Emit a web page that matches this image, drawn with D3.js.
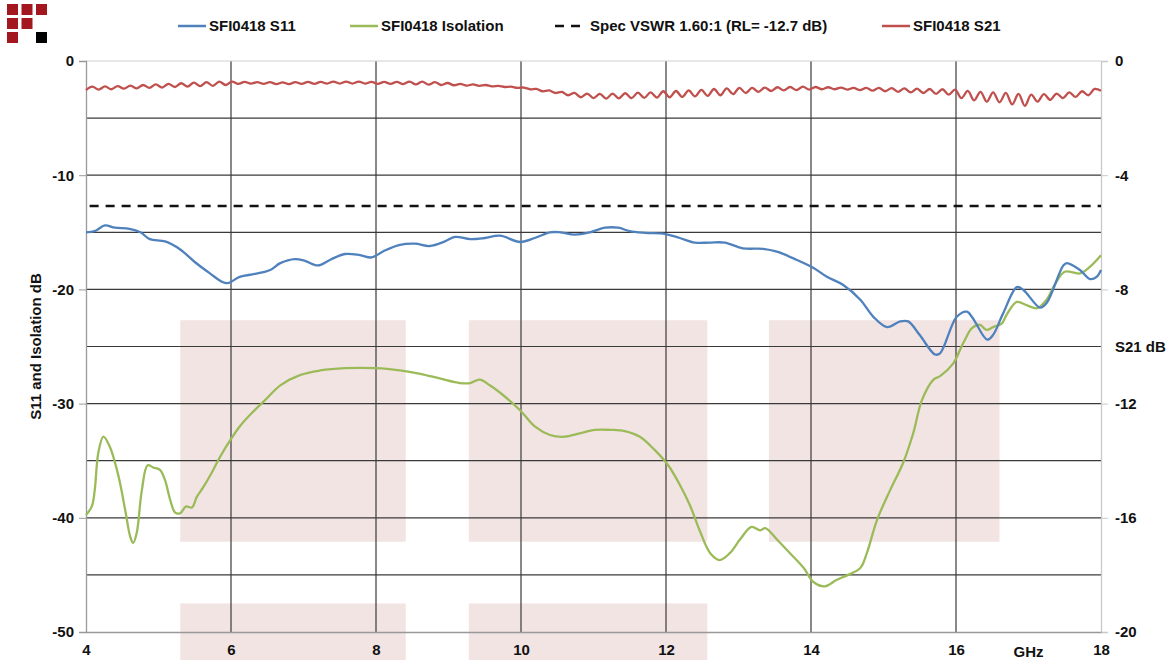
<!DOCTYPE html>
<html>
<head>
<meta charset="utf-8">
<script src="https://cdnjs.cloudflare.com/ajax/libs/d3/7.8.5/d3.min.js"></script>
<style>
  body { margin: 0; background: #fff; }
  svg text { font-family: "Liberation Sans", Arial, sans-serif; font-weight: bold; fill: #111; }
</style>
</head>
<body>
<div id="chart"></div>
<script>
// ---- data ----
var xTicks = [4, 6, 8, 10, 12, 14, 16, 18];
var leftTicks = [0, -10, -20, -30, -40, -50];
var rightTicks = [0, -4, -8, -12, -16, -20];
var gridLevels = [-5, -10, -15, -20, -25, -30, -35, -40, -45];

var specLevel = -12.7;

// shaded spec boxes (GHz, dB on left axis)
var boxX0 = [5.3, 9.28, 13.42, 5.3, 9.28];
var boxX1 = [8.41, 12.57, 16.6, 8.41, 12.57];
var boxTop = [-22.7, -22.7, -22.7, -47.5, -47.5];
var boxBottom = [-42.1, -42.1, -42.1, -52.5, -52.5];

var s11Freq = [4.0, 4.12, 4.26, 4.4, 4.6, 4.75, 4.88, 5.09, 5.3, 5.5, 5.71, 5.88, 5.96, 6.12, 6.33, 6.54, 6.68, 6.88, 7.02, 7.2, 7.37, 7.57, 7.78, 7.94, 8.12, 8.33, 8.54, 8.74, 8.95, 9.09, 9.3, 9.5, 9.71, 9.99, 10.19, 10.4, 10.54, 10.74, 10.95, 11.16, 11.34, 11.5, 11.71, 11.99, 12.19, 12.4, 12.6, 12.81, 13.06, 13.34, 13.53, 13.8, 14.03, 14.22, 14.44, 14.68, 14.86, 15.05, 15.23, 15.34, 15.5, 15.71, 15.78, 16.01, 16.15, 16.23, 16.43, 16.51, 16.65, 16.84, 16.93, 17.16, 17.25, 17.48, 17.53, 17.71, 17.85, 17.94, 18.0];
var s11Val = [-15.0, -14.9, -14.4, -14.6, -14.7, -15.0, -15.6, -15.8, -16.5, -17.6, -18.6, -19.35, -19.45, -18.9, -18.65, -18.3, -17.7, -17.35, -17.5, -17.9, -17.4, -16.9, -17.0, -17.2, -16.6, -16.1, -16.0, -16.2, -15.8, -15.4, -15.6, -15.5, -15.3, -15.85, -15.5, -15.0, -15.0, -15.2, -15.0, -14.6, -14.6, -14.9, -15.05, -15.15, -15.5, -15.9, -15.9, -15.9, -16.4, -16.45, -16.7, -17.4, -18.1, -18.9, -19.6, -20.9, -22.4, -23.3, -22.8, -22.8, -24.0, -25.7, -25.6, -22.4, -21.95, -22.5, -24.4, -24.0, -22.1, -19.8, -20.05, -21.6, -21.2, -17.9, -17.7, -18.3, -19.1, -18.9, -18.3];

var isoFreq = [4.0, 4.08, 4.12, 4.17, 4.24, 4.33, 4.45, 4.54, 4.61, 4.65, 4.7, 4.77, 4.85, 4.93, 5.02, 5.09, 5.16, 5.23, 5.3, 5.38, 5.46, 5.53, 5.62, 5.73, 5.85, 5.99, 6.12, 6.26, 6.47, 6.68, 6.95, 7.23, 7.57, 8.0, 8.33, 8.61, 8.88, 9.16, 9.3, 9.43, 9.57, 9.78, 9.99, 10.19, 10.4, 10.6, 10.81, 11.02, 11.23, 11.43, 11.64, 11.85, 12.03, 12.19, 12.33, 12.47, 12.61, 12.74, 12.88, 13.02, 13.18, 13.3, 13.37, 13.53, 13.71, 13.9, 14.03, 14.19, 14.35, 14.51, 14.68, 14.77, 14.91, 15.09, 15.27, 15.41, 15.53, 15.69, 15.78, 15.96, 16.1, 16.22, 16.33, 16.42, 16.51, 16.63, 16.7, 16.84, 16.98, 17.12, 17.25, 17.37, 17.5, 17.71, 17.85, 18.0];
var isoVal = [-39.75, -39.0, -37.6, -34.3, -32.9, -33.8, -36.4, -39.3, -41.65, -42.2, -41.3, -37.6, -35.4, -35.6, -35.8, -36.7, -38.4, -39.55, -39.6, -39.0, -39.1, -38.15, -37.3, -36.1, -34.65, -33.2, -32.0, -31.0, -29.7, -28.4, -27.5, -27.1, -26.9, -26.9, -27.1, -27.4, -27.8, -28.2, -28.2, -27.9, -28.4, -29.4, -30.6, -32.0, -32.75, -32.9, -32.6, -32.3, -32.3, -32.4, -32.9, -34.1, -35.4, -37.1, -38.9, -41.2, -43.1, -43.7, -43.1, -41.9, -40.8, -41.1, -40.9, -41.9, -43.1, -44.4, -45.6, -46.0, -45.45, -45.0, -44.4, -43.1, -40.2, -37.6, -35.2, -32.6, -29.7, -27.9, -27.6, -26.5, -24.7, -23.4, -23.1, -23.55, -23.3, -23.0, -22.2, -21.1, -21.4, -21.65, -20.9, -19.5, -18.45, -18.6, -18.0, -17.0];

// S21 measured on a uniform 0.0875 GHz grid from 4 GHz
var s21Start = 4, s21Step = 0.0875;
var s21Val = [
  -1.02, -0.90, -1.00, -0.89, -0.99, -0.88, -0.97, -0.86, -0.96, -0.84,
  -0.94, -0.82, -0.93, -0.80, -0.91, -0.78, -0.90, -0.76, -0.88, -0.74,
  -0.87, -0.72, -0.84, -0.72, -0.80, -0.73, -0.79, -0.74, -0.80, -0.74,
  -0.81, -0.75, -0.81, -0.74, -0.80, -0.73, -0.80, -0.73, -0.79, -0.72,
  -0.79, -0.72, -0.79, -0.72, -0.79, -0.73, -0.80, -0.73, -0.80, -0.73,
  -0.81, -0.72, -0.82, -0.72, -0.83, -0.74, -0.84, -0.77, -0.85, -0.80,
  -0.86, -0.82, -0.87, -0.84, -0.89, -0.87, -0.91, -0.90, -0.94, -0.93,
  -0.99, -0.98, -1.06, -1.03, -1.12, -1.08, -1.20, -1.12, -1.27, -1.14,
  -1.30, -1.15, -1.32, -1.14, -1.31, -1.13, -1.30, -1.11, -1.29, -1.10,
  -1.28, -1.06, -1.27, -1.05, -1.26, -1.03, -1.24, -1.01, -1.22, -0.98,
  -1.20, -0.96, -1.16, -0.94, -1.12, -0.94, -1.08, -0.93, -1.05, -0.92,
  -1.03, -0.91, -1.02, -0.90, -1.00, -0.91, -0.99, -0.92, -0.99, -0.93,
  -1.00, -0.94, -1.02, -0.94, -1.04, -0.94, -1.06, -0.95, -1.08, -0.96,
  -1.10, -0.97, -1.12, -0.98, -1.15, -0.99, -1.18, -1.00, -1.30, -1.05,
  -1.38, -1.08, -1.42, -1.10, -1.45, -1.12, -1.52, -1.15, -1.57, -1.18,
  -1.42, -1.16, -1.36, -1.14, -1.30, -1.10, -1.26, -1.06, -1.20, -0.98,
  -1.04
];

var legendItems = [
  { label: "SFI0418 S11", color: "#4f81bd", dash: null, x: 178 },
  { label: "SFI0418 Isolation", color: "#9bbb59", dash: null, x: 350 },
  { label: "Spec VSWR 1.60:1 (RL= -12.7 dB)", color: "#111", dash: "9,7", x: 555 },
  { label: "SFI0418 S21", color: "#c0504d", dash: null, x: 882 }
];

// logo cells: [col, row, colour]
var logoCells = [[0, 0, "#a3181e"], [1, 0, "#a3181e"], [2, 0, "#a3181e"],
                 [0, 1, "#a3181e"], [1, 1, "#a3181e"],
                 [0, 2, "#a3181e"], [2, 2, "#000"]];

window.onload = function () {
  var W = 1176, H = 660;
  var margin = { top: 61, right: 75, bottom: 28, left: 86 };

  var svg = d3.select("#chart").append("svg").attr("width", W).attr("height", H);

  var x = d3.scaleLinear().domain([4, 18]).range([margin.left, W - margin.right]);
  var y = d3.scaleLinear().domain([-50, 0]).range([H - margin.bottom, margin.top]);
  var y2 = d3.scaleLinear().domain([-20, 0]).range([H - margin.bottom, margin.top]);

  // plain hyphen, like the original labels
  var fmt = function (d) { return String(d); };

  // logo
  svg.append("g").selectAll("rect").data(logoCells).enter().append("rect")
    .attr("x", function (d) { return 7 + d[0] * 14.5; })
    .attr("y", function (d) { return 4 + d[1] * 14; })
    .attr("width", 11).attr("height", 11)
    .attr("fill", function (d) { return d[2]; });

  // shaded boxes
  svg.append("g").selectAll("rect").data(boxX0).enter().append("rect")
    .attr("x", function (d) { return x(d); })
    .attr("width", function (d, i) { return x(boxX1[i]) - x(d); })
    .attr("y", function (d, i) { return y(boxTop[i]); })
    .attr("height", function (d, i) { return y(boxBottom[i]) - y(boxTop[i]); })
    .attr("fill", "#f3e4e4");

  // grid
  var grid = svg.append("g");
  grid.selectAll("line.h").data(gridLevels).enter().append("line")
    .attr("x1", x(4)).attr("x2", x(18))
    .attr("y1", function (d) { return y(d); }).attr("y2", function (d) { return y(d); })
    .attr("stroke", "#3a3a3a").attr("stroke-width", 1.2);
  grid.selectAll("line.v").data(xTicks.slice(1, -1)).enter().append("line")
    .attr("y1", y(0)).attr("y2", y(-50))
    .attr("x1", function (d) { return x(d); }).attr("x2", function (d) { return x(d); })
    .attr("stroke", "#3a3a3a").attr("stroke-width", 1.2);
  grid.append("line").attr("x1", x(4)).attr("x2", x(18)).attr("y1", y(0)).attr("y2", y(0))
    .attr("stroke", "#d0d0d0").attr("stroke-width", 1);

  // axes
  var axL = d3.axisLeft(y).tickValues(leftTicks).tickSize(7).tickFormat(fmt);
  var axR = d3.axisRight(y2).tickValues(rightTicks).tickSize(7).tickFormat(fmt);
  var axB = d3.axisBottom(x).tickValues(xTicks).tickSize(0).tickPadding(12).tickFormat(fmt);

  function styleAxis(g, col) {
    g.select(".domain").attr("stroke", col).attr("stroke-width", 1.3);
    g.selectAll(".tick line").attr("stroke", col);
    g.selectAll(".tick text").style("font-size", "15px").attr("fill", "#111");
  }
  svg.append("g").attr("transform", "translate(" + x(4) + ",0)").call(axL).call(styleAxis, "#999")
    .selectAll(".tick text").attr("dx", "-2");
  svg.append("g").attr("transform", "translate(" + x(18) + ",0)").call(axR).call(styleAxis, "#c8c8c8")
    .selectAll(".tick text").attr("dx", "4");
  svg.append("g").attr("transform", "translate(0," + y(-50) + ")").call(axB).call(styleAxis, "#999");

  // axis titles
  svg.append("text").attr("transform", "translate(41," + y(-25) + ") rotate(-90)")
    .attr("text-anchor", "middle").style("font-size", "15px").text("S11 and Isolation dB");
  svg.append("text").attr("x", x(18) + 14).attr("y", y2(-10) + 5)
    .style("font-size", "15px").text("S21 dB");
  svg.append("text").attr("x", x(17.0)).attr("y", H - 3).attr("text-anchor", "middle")
    .style("font-size", "15px").text("GHz");

  // spec line
  svg.append("line").attr("x1", x(4.05)).attr("x2", x(18))
    .attr("y1", y(specLevel)).attr("y2", y(specLevel))
    .attr("stroke", "#111").attr("stroke-width", 2.5).attr("stroke-dasharray", "9,7");

  var line = d3.line().curve(d3.curveCatmullRom.alpha(0.5))
    .x(function (d) { return x(d[0]); }).y(function (d) { return d[1]; });

  var s11 = s11Freq.map(function (f, i) { return [f, y(s11Val[i])]; });
  var iso = isoFreq.map(function (f, i) { return [f, y(isoVal[i])]; });
  var s21 = s21Val.map(function (v, i) { return [s21Start + i * s21Step, y2(v)]; });

  svg.append("path").attr("d", line(iso)).attr("fill", "none")
    .attr("stroke", "#9bbb59").attr("stroke-width", 2.3);
  svg.append("path").attr("d", line(s11)).attr("fill", "none")
    .attr("stroke", "#4f81bd").attr("stroke-width", 2.3);
  svg.append("path").attr("d", line(s21)).attr("fill", "none")
    .attr("stroke", "#c0504d").attr("stroke-width", 2.3);

  // legend
  var leg = svg.append("g").selectAll("g").data(legendItems).enter().append("g")
    .attr("transform", function (d) { return "translate(" + d.x + ",26)"; });
  leg.append("line").attr("x1", 0).attr("x2", function (d) { return d.dash ? 30 : 28; })
    .attr("stroke", function (d) { return d.color; })
    .attr("stroke-width", 2.5)
    .attr("stroke-dasharray", function (d) { return d.dash; });
  leg.append("text").attr("x", function (d) { return d.dash ? 35 : 31; }).attr("y", 5)
    .style("font-size", "15px").text(function (d) { return d.label; });
};
</script>
</body>
</html>
